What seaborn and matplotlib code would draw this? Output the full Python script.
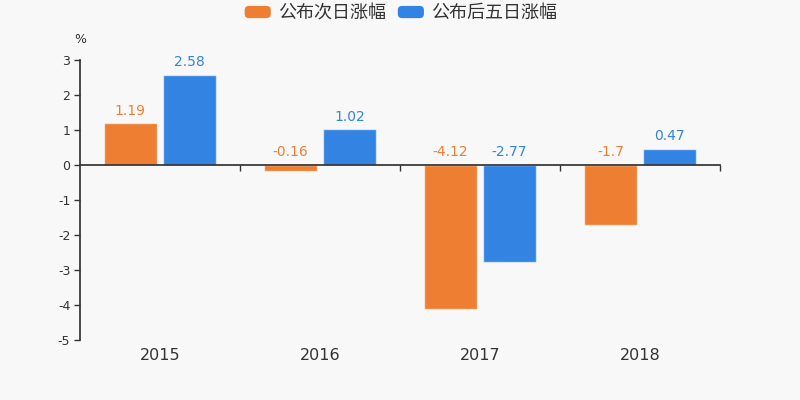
import pandas as pd
import numpy as np
import matplotlib
matplotlib.use('Agg')
import matplotlib.pyplot as plt
import seaborn as sns
from matplotlib.patches import FancyBboxPatch, Patch
from matplotlib.legend_handler import HandlerPatch

years = ['2015', '2016', '2017', '2018']
next_day = [1.19, -0.16, -4.12, -1.7]
five_day = [2.58, 1.02, -2.77, 0.47]
series_names = ['公布次日涨幅', '公布后五日涨幅']
colors = ['#EE7F32', '#3383E3']


class RoundHandler(HandlerPatch):
    def create_artists(self, legend, orig_handle, xdescent, ydescent,
                       width, height, fontsize, trans):
        p = FancyBboxPatch((-xdescent + 1, -ydescent + 1), width - 2, height - 2,
                           boxstyle='round,pad=0,rounding_size=3',
                           facecolor=orig_handle.get_facecolor(),
                           edgecolor='none', transform=trans)
        return [p]


df = pd.DataFrame({
    'year': years * 2,
    'value': next_day + five_day,
    'series': [series_names[0]] * 4 + [series_names[1]] * 4,
})

sns.set_theme(style='white')
plt.rcParams['font.family'] = ['Noto Sans CJK SC', 'DejaVu Sans']
plt.rcParams['axes.unicode_minus'] = False

fig = plt.figure(figsize=(8, 4), dpi=100, facecolor='#f8f8f8')
ax = fig.add_axes([0.1, 0.15, 0.8, 0.7], facecolor='#f8f8f8')

sns.barplot(data=df, x='year', y='value', hue='series', palette=colors,
            width=0.74, gap=0.1, ax=ax, legend=False,
            edgecolor=(1, 1, 1, 0.6), linewidth=1, saturation=1)

ax.set_xlim(-0.5, 3.5)
ax.set_ylim(-5, 3)
ax.set_yticks(range(-5, 4))
ax.set_yticklabels([str(v) for v in range(-5, 4)], family='DejaVu Sans')
ax.set_xlabel('')
ax.set_ylabel('')

for s in ['top', 'right']:
    ax.spines[s].set_visible(False)
ax.spines['left'].set_color('#333333')
ax.spines['bottom'].set_color('#333333')
ax.spines['bottom'].set_position(('data', 0))
ax.tick_params(axis='y', direction='out', length=4, width=1, color='#333333',
               labelsize=9, labelcolor='#333333', pad=3, left=True)
ax.set_xticks(range(len(years)))
ax.set_xticklabels(years, family='DejaVu Sans')
ax.tick_params(axis='x', which='major', length=0, pad=132, labelsize=11.5,
               labelcolor='#333333')
ax.set_xticks([0.5, 1.5, 2.5, 3.5], minor=True)
ax.tick_params(axis='x', which='minor', direction='out', length=4, width=1,
               color='#333333', bottom=True)

for cont, col in zip(ax.containers, colors):
    for bar in cont:
        v = bar.get_height()
        ax.annotate(f'{v:g}', (bar.get_x() + bar.get_width() / 2, max(v, 0)),
                    xytext=(0, 4), textcoords='offset points',
                    ha='center', va='bottom', color=col, fontsize=10,
                    family='DejaVu Sans')

ax.text(0, 1.05, '%', transform=ax.transAxes, ha='center', va='bottom',
        fontsize=9, color='#333333', family='DejaVu Sans')

handles = [Patch(facecolor=c) for c in colors]
fig.legend(handles, series_names, loc='upper center', bbox_to_anchor=(0.5, 1.03),
           ncol=2, frameon=False, fontsize=13, handlelength=1.6, handleheight=0.9,
           handletextpad=0.3, columnspacing=0.6, labelcolor='#333333',
           handler_map={Patch: RoundHandler()})

fig.savefig('out.png', dpi=100, facecolor=fig.get_facecolor())
